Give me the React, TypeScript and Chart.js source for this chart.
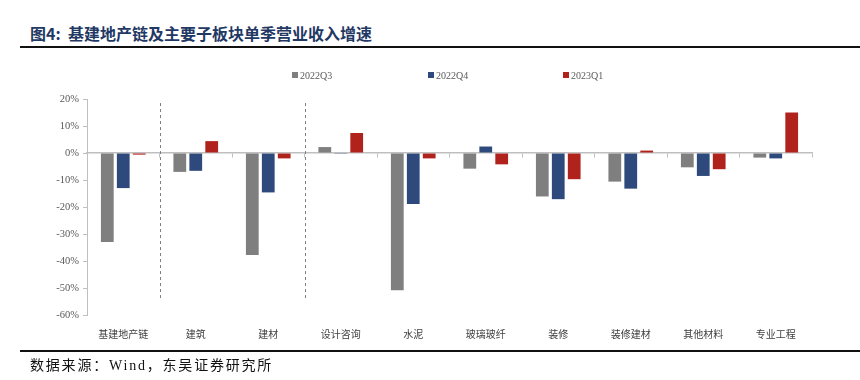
import React, { useEffect, useRef } from "react";
import { Chart, registerables } from "chart.js";

Chart.register(...registerables);

const categories = ["基建地产链", "建筑", "建材", "设计咨询", "水泥", "玻璃玻纤", "装修", "装修建材", "其他材料", "专业工程"];
const q3_2022 = [-33.0, -7.0, -37.8, 2.2, -50.8, -5.8, -16.1, -10.6, -5.3, -1.7];
const q4_2022 = [-13.0, -6.6, -14.6, -0.3, -18.9, 2.4, -17.1, -13.2, -8.5, -2.0];
const q1_2023 = [-0.6, 4.4, -2.0, 7.4, -2.0, -4.2, -9.7, 0.9, -6.0, 15.0];
const seriesNames = ["2022Q3", "2022Q4", "2023Q1"];
const seriesColors = ["#7f7f7f", "#2e4a7c", "#b0231d"];
const yTicks = [20, 10, 0, -10, -20, -30, -40, -50, -60];
const separatorsAfter = [0, 2];

const separatorPlugin = {
  id: "separators",
  afterDatasetsDraw(chart: any) {
    const { ctx, scales } = chart;
    const x = scales.x;
    const y = scales.y;
    ctx.save();
    ctx.strokeStyle = "#7f7f7f";
    ctx.lineWidth = 1;
    ctx.setLineDash([3, 3]);
    separatorsAfter.forEach((i) => {
      const px = Math.round((x.getPixelForValue(i) + x.getPixelForValue(i + 1)) / 2) + 0.5;
      ctx.beginPath();
      ctx.moveTo(px, y.getPixelForValue(18.5));
      ctx.lineTo(px, y.getPixelForValue(-54));
      ctx.stroke();
    });
    ctx.restore();
  },
};

export default function App() {
  const ref = useRef<HTMLCanvasElement | null>(null);
  useEffect(() => {
    if (!ref.current) return;
    const datasets = [q3_2022, q4_2022, q1_2023].map((d, i) => ({
      label: seriesNames[i],
      data: d,
      backgroundColor: seriesColors[i],
      borderWidth: 0,
      barPercentage: 0.8,
      categoryPercentage: 0.66,
    }));
    const chart = new Chart(ref.current, {
      type: "bar",
      data: { labels: categories, datasets },
      plugins: [separatorPlugin],
      options: {
        animation: false,
        responsive: false,
        maintainAspectRatio: false,
        layout: { padding: { left: 20, right: 48, top: 99, bottom: 40 } },
        plugins: { legend: { display: false }, tooltip: { enabled: false } },
        scales: {
          x: {
            type: "category",
            position: { y: 0 } as any,
            ticks: { display: false },
            grid: { offset: true, drawOnChartArea: false, tickLength: 4, color: "#bfbfbf", lineWidth: 1 },
            border: { color: "#bfbfbf", width: 1.5 },
          },
          x2: {
            type: "category",
            labels: categories,
            position: "bottom",
            grid: { display: false },
            border: { display: false },
            ticks: { font: { family: "Noto Sans CJK SC", size: 10 }, color: "#404040", padding: 5, maxRotation: 0 },
            afterFit: (s: any) => { s.height = 25; },
          },
          y: {
            min: -60,
            max: 20,
            afterBuildTicks: (s: any) => { s.ticks = yTicks.map((v) => ({ value: v })); },
            ticks: {
              callback: (v: any) => `${v}%`,
              font: { family: "Liberation Serif", size: 10.5 },
              color: "#595959",
              padding: 4,
            },
            grid: { drawOnChartArea: false, tickLength: 4, color: "#bfbfbf" },
            border: { color: "#bfbfbf", width: 1 },
            afterFit: (s: any) => { s.width = 67; },
          },
        },
      },
    });
    return () => chart.destroy();
  }, []);

  const legendX = [292, 428, 563];
  return (
    <div style={{ position: "fixed", left: 0, top: 0, width: 860, height: 380, background: "#fff", overflow: "hidden" }}>
      <div style={{ position: "absolute", left: 30, top: 22, fontFamily: "Noto Sans CJK SC", fontWeight: 700, fontSize: 16, color: "#1f3864", lineHeight: "22px", whiteSpace: "nowrap" }}>
        图4:&nbsp;&nbsp;基建地产链及主要子板块单季营业收入增速
      </div>
      <div style={{ position: "absolute", left: 20, top: 46, width: 840, height: 2, background: "#111" }} />
      <canvas ref={ref} width={860} height={380} style={{ position: "absolute", left: 0, top: 0, width: 860, height: 380 }} />
      {seriesNames.map((n, i) => (
        <div key={n} style={{ position: "absolute", left: legendX[i], top: 68, height: 14, display: "flex", alignItems: "center", fontFamily: "Liberation Serif", fontSize: 10, color: "#595959", whiteSpace: "nowrap" }}>
          <span style={{ display: "inline-block", width: 6, height: 6, background: seriesColors[i], marginRight: 2 }} />
          {n}
        </div>
      ))}
      <div style={{ position: "absolute", left: 20, top: 350, width: 840, height: 1.5, background: "#111" }} />
      <div style={{ position: "absolute", left: 30, top: 355, fontFamily: "Noto Sans CJK SC", fontSize: 14, letterSpacing: 1.8, color: "#111", lineHeight: "18px", whiteSpace: "nowrap" }}>
        数据来源：<span style={{ fontFamily: "Liberation Serif" }}>Wind</span>，东吴证券研究所
      </div>
    </div>
  );
}
